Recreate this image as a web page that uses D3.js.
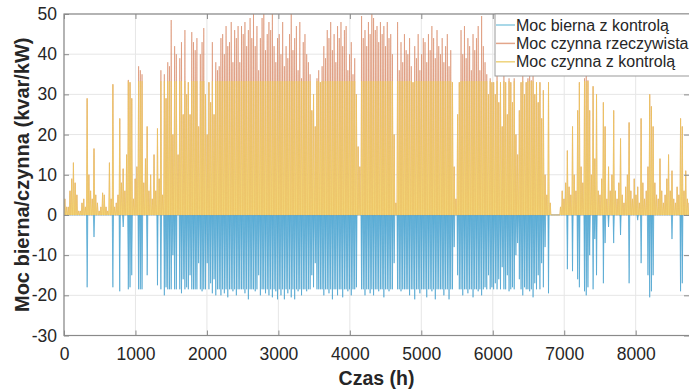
<!DOCTYPE html>
<html><head><meta charset="utf-8">
<script src="https://cdn.jsdelivr.net/npm/d3@7/dist/d3.min.js"></script>
<style>
html,body{margin:0;padding:0;background:#fff;}
svg{display:block;font-family:"Liberation Sans",Arial,Helvetica,sans-serif;}
</style></head>
<body><svg id="c" width="689" height="390"></svg>
<script>
// Daily peak of actual active power (kW), days 0..364
const activeReal = [
4,2,2,6,9,13,8,5,1,1,
3,4,2,29,10,6,4,16.5,5,3,
1,2,5.5,5,2,1,13,4,32.5,2,
3,5,24,8,11.5,6,15,33.6,33,29,
4,9,12,37,36,35,8,14,22,6,
10,4,15,6,21.5,9,36,5,35,29,
38,37,48.5,20,42,40,15,39,43,25,
46,30,33,25,45.5,43,41,44,22,40,
43,46.5,30,20,33,28,43,25,38,36,
37,44,45,40,47,42,43,48,38,46,
44,47,38,47,45,48,42,46,49,44,
50,42,47,36,44,49,50,41,45,48,
46,50,42,38,44,45,40,48,37,42,
39,45,50,41,44,47,36,48,34,43,
45,40,38,35,26,30,22,34,36,33,
37,42,39,46,44,48,41,45,38,47,
44,48,42,46,47,36,40,43,35,39,
30,17,12,49.5,44,46,42,48,45,50,
49,46,47,43,48,45,47,42,48,44,
45,40,20,3,48,36,43,38,45,41,
40,44,37,33,42,39,45,36,40,44,
43,38,45,41,47,44,39,46,42,40,
44,38,42,45,37,41,33,12,4,25,
33,46,40,47,39,44,42,36,45,41,
44,47,36,49.5,42,38,35,30,34,33,
33,30,35,28,33,22,36,33,25,34,
33,28,34,20,15,26,33,35,30,33,
34,35,33.5,35,30,33,28,33,24,31,
10,5,33,3,0,0,0,0,0,2,
6,4,8,16,7,5,22,10,6,26,
33,12,8,34,35,33.5,26,10,32,14,
30,6,5,9,28,22,4,12,6,10,
26,6,4,8,19,5,3,7,10,23,
6,4,9,5,7,3,24,8,4,6,
12,30,27,22,8,5,4,14,6,3,
5,9,15,6,11,4,3,7,5,24,
22,6,11,4,3
];
// Daily peak of active power with control (kW)
const activeCtrl = [
4,2,2,6,9,13,8,5,1,1,
3,4,2,29,10,6,4,16.5,5,3,
1,2,5.5,5,2,1,13,4,32.5,2,
3,5,24,8,11.5,6,15,33.3,33,29,
4,9,12,33.3,33.3,33.3,8,14,22,6,
10,4,15,6,21.5,9,33.3,5,33.3,29,
33.3,33.3,33.3,20,33.3,33.3,15,33.3,33.3,25,
33.3,30,33,25,33.3,33.3,33.3,33.3,22,33.3,
33.3,33.3,30,20,33,28,33.3,25,33.3,33.3,
33.3,33.3,33.3,33.3,33.3,33.3,33.3,33.3,33.3,33.3,
33.3,33.3,33.3,33.3,33.3,33.3,33.3,33.3,33.3,33.3,
33.3,33.3,33.3,33.3,33.3,33.3,33.3,33.3,33.3,33.3,
33.3,33.3,33.3,33.3,33.3,33.3,33.3,33.3,33.3,33.3,
33.3,33.3,33.3,33.3,33.3,33.3,33.3,33.3,33.3,33.3,
33.3,33.3,33.3,33.3,26,30,22,33.3,33.3,33,
33.3,33.3,33.3,33.3,33.3,33.3,33.3,33.3,33.3,33.3,
33.3,33.3,33.3,33.3,33.3,33.3,33.3,33.3,33.3,33.3,
30,17,12,33.3,33.3,33.3,33.3,33.3,33.3,33.3,
33.3,33.3,33.3,33.3,33.3,33.3,33.3,33.3,33.3,33.3,
33.3,33.3,20,3,33.3,33.3,33.3,33.3,33.3,33.3,
33.3,33.3,33.3,33,33.3,33.3,33.3,33.3,33.3,33.3,
33.3,33.3,33.3,33.3,33.3,33.3,33.3,33.3,33.3,33.3,
33.3,33.3,33.3,33.3,33.3,33.3,33,12,4,25,
33,33.3,33.3,33.3,33.3,33.3,33.3,33.3,33.3,33.3,
33.3,33.3,33.3,33.3,33.3,33.3,33.3,30,33.3,33,
33,30,33.3,28,33,22,33.3,33,25,33.3,
33,28,33.3,20,15,26,33,33.3,30,33,
33.3,33.3,33.3,33.3,30,33,28,33,24,31,
10,5,33,3,0,0,0,0,0,2,
6,4,8,16,7,5,22,10,6,26,
33,12,8,33.3,33.3,33.3,26,10,32,14,
30,6,5,9,28,22,4,12,6,10,
26,6,4,8,19,5,3,7,10,23,
6,4,9,5,7,3,24,8,4,6,
12,30,27,22,8,5,4,14,6,3,
5,9,15,6,11,4,3,7,5,24,
22,6,11,4,3
];
// Daily minimum of reactive power with control (kvar)
const reactiveCtrl = [
0,0,0,0,0,0,0,0,0,0,
0,0,0,-18,0,0,0,-5.5,0,0,
0,0,0,0,0,0,0,0,-18,0,
0,0,-19,0,-3,0,0,-18.5,-18,-15,
0,0,0,-18.5,-18.5,-18.5,0,0,-15,0,
0,0,0,0,-17.5,0,-18.5,0,-20,-18,
-18.5,-18.5,-18.5,-10,-18.5,-18.5,0,-18.5,-19.5,-16,
-18.5,-18,-18.5,-15,-18.5,-18.5,-18.5,-18.5,-12,-18.5,
-19,-18.5,-18.5,-12,-18.5,-17,-19.5,-16,-20,-18.5,
-18.5,-20,-18.5,-19.5,-18.5,-20.5,-18.5,-18.5,-19,-18.5,
-20,-18.5,-18.5,-18.5,-18.5,-19.5,-18.5,-21,-18.5,-18.5,
-18.5,-19,-18.5,-15,-20,-18.5,-18.5,-19.5,-18.5,-20,
-18.5,-20.5,-18.5,-19,-21,-18.5,-20,-18.5,-21,-18.5,
-19.5,-18.5,-20.5,-18.5,-21,-18.5,-19,-18.5,-20,-18.5,
-18.5,-19,-18.5,-18.5,-15,-18,-12,-18.5,-18.5,-18.5,
-18.5,-20,-18.5,-18.5,-19.5,-18.5,-21,-18.5,-18.5,-20,
-18.5,-18.5,-20.5,-18.5,-18.5,-19,-18.5,-20,-18.5,-18.5,
-18,0,0,-18.5,-18.5,-20,-18.5,-18.5,-19.5,-18.5,
-20,-18.5,-18.5,-19,-18.5,-18.5,-20.5,-18.5,-18.5,-19,
-18.5,-18.5,-12,0,-18.5,-18.5,-19,-18.5,-18.5,-18.5,
-18.5,-20,-18.5,-18.5,-21,-18.5,-18.5,-19.5,-18.5,-18.5,
-18.5,-20.5,-18.5,-18.5,-19,-18.5,-21,-18.5,-18.5,-18.5,
-18.5,-20,-18.5,-18.5,-21,-18.5,-18.5,-8,0,-15,
-18.5,-18.5,-20,-18.5,-18.5,-19.5,-18.5,-18.5,-20.5,-18.5,
-18.5,-19,-18.5,-20,-18.5,-18,-18.5,-15,-18.5,-18,
-18.5,-17,-18.5,-16,-18.5,-13,-18.5,-18.5,-15,-19,
-18.5,-18,-18.5,-10,-7,-16,-18.5,-20,-18,-18.5,
-18.5,-19,-18.5,-20.5,-17,-18.5,-15,-18.5,-12,-18,
-8,0,-19.5,0,0,0,0,0,0,0,
0,0,0,-13.5,0,0,-14,0,0,-16,
-18,0,0,-19,-20,-18,-10,0,-18.5,-6,
-15,0,0,0,-17,-7,0,-3,0,0,
-7,0,0,0,-5,0,0,0,0,-17,
0,0,0,0,-1.3,0,-12,0,0,0,
-15,-20.5,-19,-15,0,0,0,0,0,0,
0,0,0,0,-6,0,0,0,0,-19,
-17,0,0,0,0
];
const xTicks = [0,1000,2000,3000,4000,5000,6000,7000,8000];
const yTicks = [-30,-20,-10,0,10,20,30,40,50];
const seriesNames = ["Moc bierna z kontrolą","Moc czynna rzeczywista","Moc czynna z kontrolą"];

const svg = d3.select("#c");
const L = 64, R = 689, T = 14, B = 335.5;
const x = d3.scaleLinear().domain([0, 8760]).range([L, 690]);
const y = d3.scaleLinear().domain([-30, 50]).range([B, T]);

svg.append("defs").append("clipPath").attr("id","clip")
  .append("rect").attr("x",L).attr("y",T).attr("width",R-L).attr("height",B-T);

// grid
const g = svg.append("g");
g.selectAll(".gx").data(xTicks).enter().append("line")
  .attr("x1",d=>x(d)).attr("x2",d=>x(d)).attr("y1",T).attr("y2",B)
  .attr("stroke","#e6e6e6").attr("stroke-width",1);
g.selectAll(".gy").data(yTicks).enter().append("line")
  .attr("x1",L).attr("x2",R).attr("y1",d=>y(d)).attr("y2",d=>y(d))
  .attr("stroke","#e6e6e6").attr("stroke-width",1);

// one spike per day: 0 -> daily extreme at midday -> 0
function pts(arr, hw){
  const p = [[0,0]];
  arr.forEach((v,d)=>{ p.push([d*24+12-hw,0]); p.push([d*24+12,v]); p.push([d*24+12+hw,0]); });
  p.push([arr.length*24,0]);
  return p;
}
const area = d3.area().x(d=>x(d[0])).y0(y(0)).y1(d=>y(d[1]));
const line = d3.line().x(d=>x(d[0])).y(d=>y(d[1]));
const plot = svg.append("g").attr("clip-path","url(#clip)");
const series = [
  {data: reactiveCtrl, fill:"#74bde0", stroke:"#3a9acb", hw:9, sw:0.6},
  {data: activeReal,   fill:"#e8b39c", stroke:"#d7855f", hw:7, sw:0.55},
  {data: activeCtrl,   fill:"#f5da86", stroke:"#eec75c", hw:10, sw:0.6}
];
series.forEach(s=>{
  const p = pts(s.data, s.hw);
  plot.append("path").attr("d",area(p)).attr("fill",s.fill).attr("stroke","none");
  plot.append("path").attr("d",line(p)).attr("fill","none").attr("stroke",s.stroke).attr("stroke-width",s.sw);
});

// frame
const axc = "#8a8a8a";
svg.append("rect").attr("x",L).attr("y",T).attr("width",R-L+5).attr("height",B-T)
  .attr("fill","none").attr("stroke",axc).attr("stroke-width",1.2);

const fs = 17.5;
const fmt = d => String(d);
const xa = svg.append("g").attr("transform",`translate(0,${B})`)
  .call(d3.axisBottom(x).tickValues(xTicks).tickSize(-5).tickPadding(12).tickFormat(fmt));
const ya = svg.append("g").attr("transform",`translate(${L},0)`)
  .call(d3.axisLeft(y).tickValues(yTicks).tickSize(-5).tickPadding(7).tickFormat(fmt));
// top / right ticks
svg.append("g").attr("transform",`translate(0,${T})`)
  .call(d3.axisTop(x).tickValues(xTicks).tickSize(-5).tickFormat(""));
svg.append("g").attr("transform",`translate(${R},0)`)
  .call(d3.axisRight(y).tickValues(yTicks).tickSize(-5).tickFormat(""));
svg.selectAll(".domain").remove();
svg.selectAll(".tick line").attr("stroke",axc);
[xa,ya].forEach(a=>a.selectAll("text").attr("font-size",fs).attr("fill","#262626")
  .attr("font-family","'Liberation Sans',Arial,sans-serif"));

// titles
svg.append("text").attr("x",(L+R)/2).attr("y",385).attr("text-anchor","middle")
  .attr("font-size",19.5).attr("font-weight","bold").attr("fill","#262626").text("Czas (h)");
svg.append("text").attr("transform",`translate(22,${(T+B)/2}) rotate(-90)`)
  .attr("text-anchor","middle").attr("dy","0.35em")
  .attr("font-size",20).attr("font-weight","bold").attr("fill","#262626").text("Moc bierna/czynna (kvar/kW)");

// legend
const lg = svg.append("g");
lg.append("rect").attr("x",495).attr("y",14).attr("width",220).attr("height",62)
  .attr("fill","#fff").attr("stroke","#999").attr("stroke-width",1);
const lcols = ["#8ccbe0","#e3a58a","#efd37c"];
seriesNames.forEach((n,i)=>{
  const yy = 25 + i*18.4;
  lg.append("line").attr("x1",496).attr("x2",515).attr("y1",yy).attr("y2",yy)
    .attr("stroke",lcols[i]).attr("stroke-width",1.5);
  lg.append("text").attr("x",516).attr("y",yy).attr("dy","0.35em")
    .attr("font-size",16).attr("fill","#262626").text(n);
});
</script></body></html>
